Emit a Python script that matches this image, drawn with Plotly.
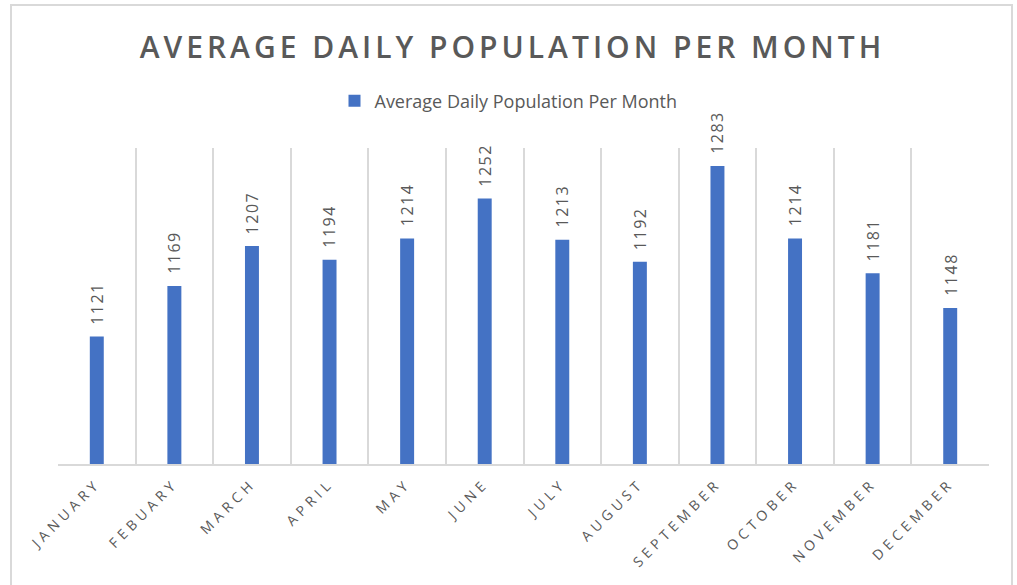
import plotly.graph_objects as go

months = ["JANUARY", "FEBUARY", "MARCH", "APRIL", "MAY", "JUNE", "JULY",
          "AUGUST", "SEPTEMBER", "OCTOBER", "NOVEMBER", "DECEMBER"]
population = [1121, 1169, 1207, 1194, 1214, 1252, 1213, 1192, 1283, 1214, 1181, 1148]
series_name = "Average Daily Population Per Month"
chart_title = "AVERAGE DAILY POPULATION PER MONTH"

GRAY = "#595959"
GRID = "#d9d9d9"
BLUE = "#4472C4"

fig = go.Figure()
fig.add_trace(go.Bar(
    x=months, y=population, name=series_name,
    marker=dict(color=BLUE, line=dict(width=0)),
    showlegend=True, hoverinfo="skip",
))

for m, v in zip(months, population):
    fig.add_annotation(
        x=m, y=v, text=str(v), textangle=-90, showarrow=False,
        xref="x", yref="y", yanchor="bottom", yshift=13,
        font=dict(family="Open Sans", size=16, color=GRAY),
    )

W, H = 1017, 585
L, R, T, B = 58, W - 989, 148, H - 464
pw, ph = W - L - R, H - T - B

fig.update_layout(
    width=W, height=H,
    margin=dict(l=L, r=R, t=T, b=B),
    paper_bgcolor="white", plot_bgcolor="white",
    bargap=0.82,
    title=dict(text=chart_title, x=0.5 - 11 / pw, xanchor="center", xref="paper",
               y=1 - 47 / H, yanchor="middle", yref="container",
               font=dict(family="Open Sans", size=30, color=GRAY, weight=600)),
    legend=dict(orientation="h", x=0.5 - 15 / pw, xanchor="center",
                y=(464 - 101) / ph, yanchor="middle",
                font=dict(family="Open Sans", size=18, color=GRAY),
                itemclick=False),
    xaxis=dict(showgrid=True, gridcolor=GRID, gridwidth=1.5,
               tickson="boundaries", ticks="", showline=True,
               linecolor=GRID, linewidth=1.5, tickangle=-45,
               ticklabelstandoff=4,
               tickfont=dict(family="Open Sans", size=14, color=GRAY),
               fixedrange=True),
    yaxis=dict(range=[1000, 1300], visible=False, showgrid=False,
               fixedrange=True),
    shapes=[dict(type="rect", xref="paper", yref="paper",
                 x0=(11 - L) / pw, x1=(1012 - L) / pw,
                 y0=(464 - 600) / ph, y1=(464 - 5) / ph,
                 line=dict(color=GRID, width=2), fillcolor="rgba(0,0,0,0)",
                 layer="below")],
)

css = ("<style>body{margin:0;} .gtitle{letter-spacing:4px;} "
       ".xtick text{letter-spacing:4.5px;} "
       ".annotation-text{letter-spacing:1.5px;}</style>")
post = ("document.head.insertAdjacentHTML('beforeend', '" + css + "');")

fig.write_html("out.html", post_script=post,
               config={"displayModeBar": False, "staticPlot": False})
